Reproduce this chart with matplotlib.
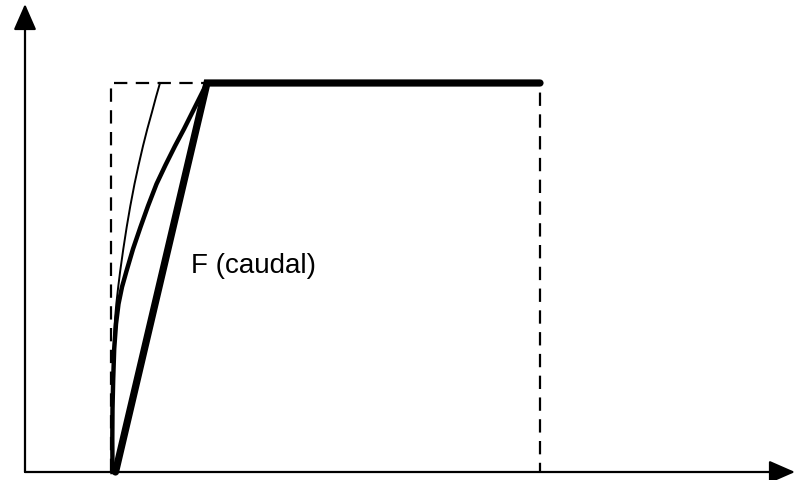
import matplotlib
matplotlib.use("Agg")
import matplotlib.pyplot as plt

# pixel-like data coordinates: origin at the axes corner, y upward
X0, Y0 = 25, 473

# dashed envelope (rectangle outline)
rect_x = [111, 111, 540, 540]
rect_y = [473, 84, 84, 473]

# linear characteristic (thick) then the flat part
lin_x = [115.5, 207, 540]
lin_y = [473, 84, 84]

# quick-opening curve (medium)
quick_x = [112.5, 112.3, 112.5, 113.2, 114.2, 116, 118.5, 122, 126.5, 133,
           140.5, 148, 156.5, 165.5, 175, 184, 192.5, 200, 207]
quick_y = [473, 440, 410, 380, 350, 325, 305, 288, 272, 250,
           228, 207, 185, 166, 147, 130, 113, 98, 84]

# faster curve (thin)
fast_x = [112.5, 112.5, 112.7, 113.2, 114, 115, 116.3, 118.2, 120.2, 123.3,
          126.7, 130.3, 134.5, 138.6, 143, 147.3, 152, 156, 160]
fast_y = [473, 430, 400, 370, 340, 320, 305, 288, 272, 250,
          228, 207, 185, 166, 147, 130, 113, 98, 84]

label_text = "F (caudal)"


def to_ax(xs, ys):
    return [x - X0 for x in xs], [Y0 - y for y in ys]


fig = plt.figure(figsize=(8.06, 4.81), dpi=100)
ax = fig.add_axes([0, 0, 1, 1])
ax.set_xlim(-X0, 806 - X0)
ax.set_ylim(Y0 - 481, Y0)
ax.axis("off")

# axes with arrows
arrow = dict(arrowstyle="-|>,head_length=0.8,head_width=0.35", lw=1.6,
             color="black", mutation_scale=20, shrinkA=0, shrinkB=0)
ax.annotate("", xy=(0, Y0 - 5), xytext=(0, 0), arrowprops=arrow)
ax.annotate("", xy=(795 - X0, 0), xytext=(0, 0), arrowprops=arrow)

ax.plot(*to_ax(rect_x, rect_y), color="black", lw=1.6,
        linestyle=(0, (6.0, 3.8)))
ax.plot(*to_ax(fast_x, fast_y), color="black", lw=1.4)
ax.plot(*to_ax(quick_x, quick_y), color="black", lw=3.2,
        solid_joinstyle="round")
ax.plot(*to_ax(lin_x, lin_y), color="black", lw=5.2, solid_capstyle="round",
        solid_joinstyle="miter")

ax.text(191 - X0, Y0 - 266, label_text, fontsize=20, family="Liberation Sans",
        ha="left", va="center")

fig.savefig("out.png", dpi=100)
